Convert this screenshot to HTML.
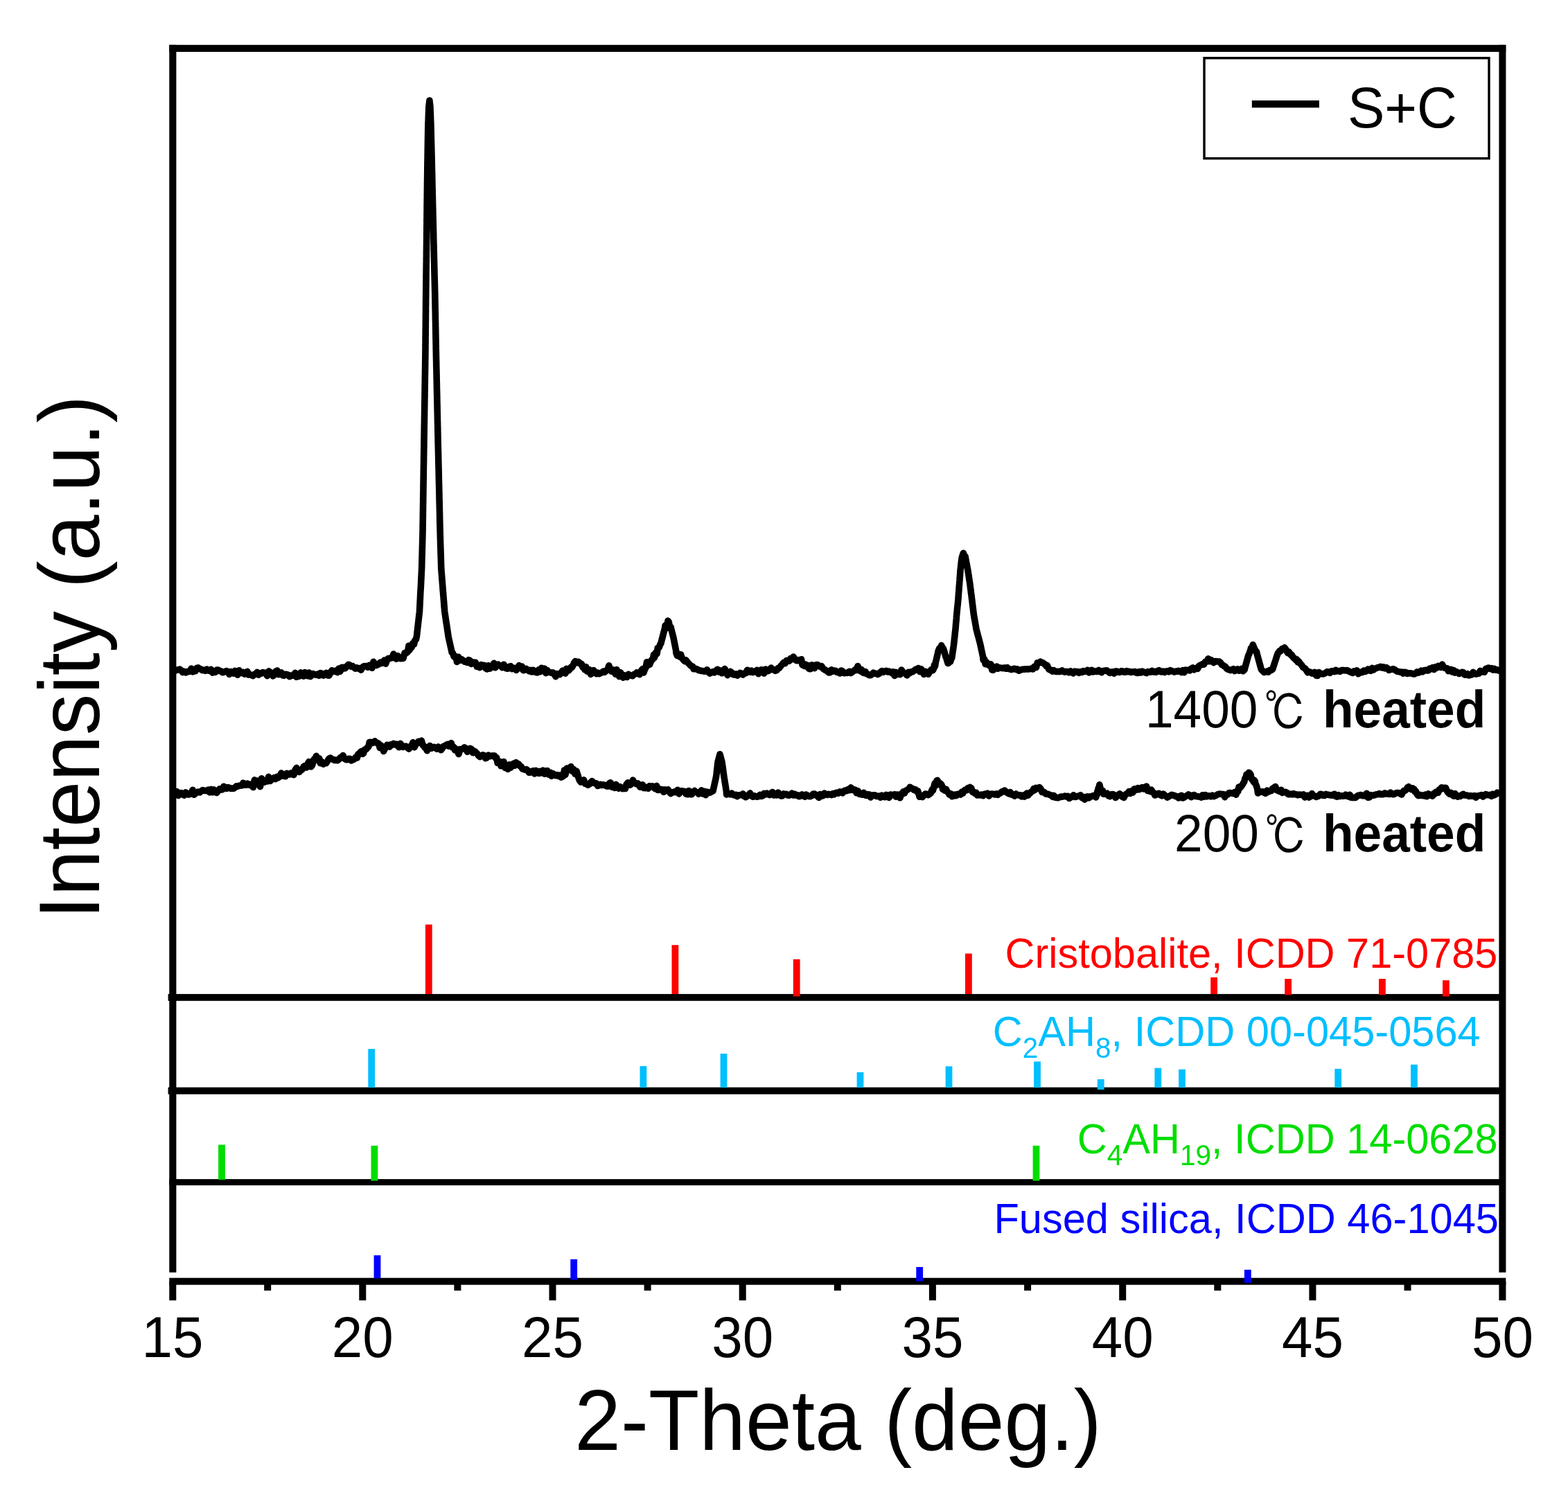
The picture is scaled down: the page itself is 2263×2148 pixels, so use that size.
<!DOCTYPE html>
<html><head><meta charset="utf-8"><title>XRD</title>
<style>html,body{margin:0;padding:0;background:#fff;overflow:hidden;}svg{display:block;}</style>
</head><body>
<svg width="2263" height="2148" viewBox="0 0 2263 2148">
<rect x="0" y="0" width="2263" height="2148" fill="#fff"/>
<path d="M251.0 966.5 L253.1 968.2 L255.2 967.0 L257.3 967.0 L259.4 966.0 L261.6 967.7 L263.7 970.6 L265.8 969.4 L267.9 970.9 L270.0 969.5 L272.0 969.6 L274.0 969.0 L276.0 965.1 L278.0 969.9 L280.0 969.0 L282.0 968.8 L284.0 964.2 L286.0 963.9 L288.0 965.4 L290.0 966.1 L292.1 967.7 L294.2 967.1 L296.3 968.3 L298.4 966.1 L300.5 968.1 L302.6 968.4 L304.7 966.4 L306.8 971.2 L308.9 969.0 L311.0 970.4 L313.0 967.1 L315.0 967.1 L317.0 968.2 L319.0 969.0 L321.0 970.8 L323.0 970.3 L325.0 969.2 L327.0 968.5 L329.0 969.7 L331.0 973.4 L333.0 969.5 L335.0 971.7 L337.0 972.2 L339.0 968.4 L341.0 971.6 L343.0 974.2 L345.0 967.7 L347.0 971.2 L349.0 971.7 L351.0 970.4 L353.0 973.1 L355.0 972.1 L357.0 969.4 L359.0 974.1 L361.0 973.8 L363.0 974.5 L365.0 975.6 L367.0 973.5 L369.0 973.1 L371.0 970.4 L373.1 974.2 L375.2 971.8 L377.3 972.1 L379.4 970.5 L381.5 971.1 L383.6 971.9 L385.7 975.6 L387.8 968.9 L389.9 970.1 L392.0 973.5 L394.0 975.9 L396.0 974.2 L398.0 969.2 L400.0 968.0 L402.0 973.7 L404.0 971.5 L406.0 970.8 L408.0 975.0 L410.0 975.2 L412.0 973.3 L414.0 973.7 L416.0 974.3 L418.0 976.8 L420.0 975.0 L422.0 975.0 L424.0 975.3 L426.0 971.3 L428.0 977.2 L430.0 976.7 L432.0 976.1 L434.0 970.9 L436.0 973.3 L438.0 976.1 L440.0 970.6 L442.0 973.6 L444.0 975.8 L446.0 971.0 L448.0 976.6 L450.0 974.3 L452.0 972.7 L454.1 973.6 L456.2 974.3 L458.3 973.2 L460.4 975.3 L462.5 971.7 L464.6 972.2 L466.7 975.1 L468.8 973.1 L470.9 971.2 L473.0 974.9 L475.0 975.1 L477.0 970.5 L479.0 967.8 L481.0 969.5 L483.0 968.7 L485.0 967.8 L487.0 970.6 L489.0 965.1 L491.0 969.1 L493.0 963.5 L494.7 963.3 L496.3 964.9 L498.0 964.8 L499.7 963.1 L501.3 960.9 L503.0 959.3 L505.0 960.3 L507.0 962.2 L509.0 961.6 L511.0 963.6 L513.0 965.1 L515.0 963.8 L517.0 965.1 L519.0 964.5 L521.0 967.2 L523.0 963.6 L525.0 961.7 L527.0 961.5 L529.0 961.8 L531.0 963.2 L533.0 960.3 L535.0 961.6 L537.0 964.3 L539.0 955.3 L541.0 958.0 L543.0 960.5 L545.0 959.8 L547.0 958.5 L549.0 956.1 L551.0 957.3 L553.0 955.6 L554.8 953.1 L556.7 958.2 L558.5 953.2 L560.3 950.6 L562.2 950.6 L564.0 949.5 L566.0 949.7 L568.0 944.1 L570.0 948.4 L572.0 951.2 L574.0 946.7 L576.0 948.8 L578.0 950.8 L580.0 950.5 L582.0 950.4 L584.0 942.6 L585.1 943.5 L586.2 941.8 L587.3 942.0 L588.4 941.2 L589.9 932.2 L591.3 938.2 L592.8 931.7 L594.2 934.4 L595.7 928.6 L596.6 929.9 L597.6 929.9 L598.5 925.2 L599.4 923.8 L600.4 923.0 L601.3 919.4 L601.5 917.4 L601.8 915.3 L602.0 913.3 L602.2 911.2 L602.5 909.2 L602.7 907.1 L602.9 905.1 L603.2 903.0 L603.4 901.0 L603.6 899.0 L603.9 896.9 L604.1 894.9 L604.3 892.8 L604.6 890.8 L604.8 888.7 L605.0 886.7 L605.3 884.6 L605.5 882.6 L605.6 880.6 L605.7 878.5 L605.8 876.5 L605.9 874.4 L606.0 872.4 L606.1 870.3 L606.2 868.3 L606.3 866.3 L606.4 864.2 L606.5 862.2 L606.6 860.1 L606.7 858.1 L606.8 856.0 L606.9 854.0 L607.0 852.0 L607.2 849.9 L607.3 847.9 L607.4 845.8 L607.5 843.8 L607.6 841.7 L607.7 839.7 L607.8 837.6 L607.9 835.6 L608.0 833.6 L608.1 831.5 L608.2 829.5 L608.3 827.4 L608.4 825.4 L608.5 823.3 L608.6 821.3 L608.7 819.2 L608.7 817.2 L608.8 815.1 L608.8 813.1 L608.9 811.0 L608.9 809.0 L609.0 806.9 L609.0 804.9 L609.1 802.8 L609.2 800.8 L609.2 798.7 L609.3 796.7 L609.3 794.6 L609.4 792.6 L609.4 790.5 L609.5 788.5 L609.6 786.4 L609.6 784.4 L609.7 782.3 L609.7 780.3 L609.8 778.2 L609.8 776.2 L609.9 774.1 L609.9 772.1 L610.0 770.0 L610.0 768.0 L610.1 766.0 L610.1 764.0 L610.1 761.9 L610.1 759.9 L610.2 757.9 L610.2 755.9 L610.2 753.9 L610.3 751.9 L610.3 749.9 L610.3 747.8 L610.4 745.8 L610.4 743.8 L610.4 741.8 L610.4 739.8 L610.5 737.8 L610.5 735.7 L610.5 733.7 L610.6 731.7 L610.6 729.7 L610.6 727.7 L610.7 725.7 L610.7 723.7 L610.7 721.6 L610.7 719.6 L610.8 717.6 L610.8 715.6 L610.8 713.6 L610.9 711.6 L610.9 709.6 L610.9 707.5 L611.0 705.5 L611.0 703.5 L611.0 701.5 L611.0 699.5 L611.1 697.5 L611.1 695.4 L611.1 693.4 L611.2 691.4 L611.2 689.4 L611.2 687.4 L611.3 685.4 L611.3 683.4 L611.3 681.3 L611.3 679.3 L611.4 677.3 L611.4 675.3 L611.4 673.3 L611.5 671.3 L611.5 669.3 L611.5 667.2 L611.6 665.2 L611.6 663.2 L611.6 661.2 L611.6 659.2 L611.7 657.2 L611.7 655.1 L611.7 653.1 L611.8 651.1 L611.8 649.1 L611.8 647.1 L611.9 645.1 L611.9 643.1 L611.9 641.0 L611.9 639.0 L612.0 637.0 L612.0 635.0 L612.0 633.0 L612.1 631.0 L612.1 629.0 L612.1 627.0 L612.2 625.0 L612.2 623.0 L612.2 621.0 L612.2 619.0 L612.3 617.0 L612.3 615.0 L612.3 613.0 L612.4 611.0 L612.4 609.0 L612.4 607.0 L612.5 605.0 L612.5 603.0 L612.5 601.0 L612.6 599.0 L612.6 597.0 L612.6 595.0 L612.6 593.0 L612.7 591.0 L612.7 589.0 L612.7 587.0 L612.8 585.0 L612.8 583.0 L612.8 581.0 L612.9 579.0 L612.9 577.0 L612.9 575.0 L613.0 573.0 L613.0 571.0 L613.0 569.0 L613.0 567.0 L613.1 565.0 L613.1 563.0 L613.1 561.0 L613.2 559.0 L613.2 557.0 L613.2 555.0 L613.3 553.0 L613.3 551.0 L613.3 549.0 L613.3 547.0 L613.4 545.0 L613.4 543.0 L613.4 541.0 L613.5 539.0 L613.5 537.0 L613.5 535.0 L613.6 533.0 L613.6 531.0 L613.6 529.0 L613.7 527.0 L613.7 525.0 L613.7 523.0 L613.7 521.0 L613.8 519.0 L613.8 517.0 L613.8 515.0 L613.9 513.0 L613.9 511.0 L613.9 509.0 L613.9 507.0 L614.0 505.0 L614.0 503.0 L614.0 501.0 L614.0 499.0 L614.0 497.0 L614.1 495.0 L614.1 493.0 L614.1 491.0 L614.1 489.0 L614.1 487.0 L614.1 485.0 L614.2 483.0 L614.2 481.0 L614.2 479.0 L614.2 477.0 L614.2 475.0 L614.3 473.0 L614.3 471.0 L614.3 469.0 L614.3 467.0 L614.3 465.0 L614.4 463.0 L614.4 461.0 L614.4 459.0 L614.4 457.0 L614.4 455.0 L614.5 453.0 L614.5 451.0 L614.5 449.0 L614.5 447.0 L614.5 445.0 L614.5 443.0 L614.6 441.0 L614.6 439.0 L614.6 437.0 L614.6 435.0 L614.6 433.0 L614.7 431.0 L614.7 429.0 L614.7 427.0 L614.7 425.0 L614.7 423.0 L614.8 421.0 L614.8 419.0 L614.8 417.0 L614.8 415.0 L614.9 413.0 L614.9 411.0 L614.9 409.0 L614.9 407.0 L615.0 405.0 L615.0 403.0 L615.0 401.0 L615.0 399.0 L615.0 397.0 L615.1 395.0 L615.1 393.0 L615.1 391.0 L615.1 389.0 L615.2 387.0 L615.2 385.0 L615.2 383.0 L615.2 381.0 L615.3 379.0 L615.3 377.0 L615.3 375.0 L615.3 373.0 L615.4 371.0 L615.4 369.0 L615.4 367.0 L615.4 365.0 L615.4 363.0 L615.5 361.0 L615.5 359.0 L615.5 357.0 L615.5 355.0 L615.6 353.0 L615.6 351.0 L615.6 349.0 L615.6 347.0 L615.7 345.0 L615.7 343.0 L615.7 341.0 L615.7 339.0 L615.7 336.9 L615.8 334.9 L615.8 332.8 L615.8 330.8 L615.8 328.8 L615.8 326.7 L615.9 324.7 L615.9 322.6 L615.9 320.6 L615.9 318.6 L615.9 316.5 L616.0 314.5 L616.0 312.4 L616.0 310.4 L616.0 308.4 L616.0 306.3 L616.1 304.3 L616.1 302.2 L616.1 300.2 L616.1 298.2 L616.1 296.1 L616.2 294.1 L616.2 292.0 L616.2 290.0 L616.2 288.0 L616.3 285.9 L616.3 283.9 L616.3 281.8 L616.3 279.8 L616.4 277.8 L616.4 275.7 L616.4 273.7 L616.4 271.7 L616.5 269.6 L616.5 267.6 L616.5 265.5 L616.5 263.5 L616.6 261.5 L616.6 259.4 L616.6 257.4 L616.7 255.3 L616.7 253.3 L616.7 251.3 L616.7 249.2 L616.8 247.2 L616.8 245.2 L616.8 243.1 L616.8 241.1 L616.9 239.0 L616.9 237.0 L616.9 235.0 L617.0 233.0 L617.0 231.0 L617.0 229.0 L617.1 227.0 L617.1 225.0 L617.1 223.0 L617.2 221.0 L617.2 219.0 L617.2 217.0 L617.3 215.0 L617.3 213.0 L617.3 211.0 L617.4 209.0 L617.4 207.0 L617.4 205.0 L617.5 203.0 L617.5 201.0 L617.5 199.0 L617.6 197.0 L617.6 195.0 L617.6 193.0 L617.7 191.0 L617.7 189.0 L617.7 187.0 L617.8 185.0 L617.8 183.0 L617.9 181.0 L617.9 179.0 L618.0 177.0 L618.1 175.0 L618.2 173.0 L618.2 171.0 L618.3 169.0 L618.4 167.0 L618.4 165.0 L618.5 163.0 L618.6 161.0 L618.7 159.0 L618.7 157.0 L618.8 155.0 L619.0 153.0 L619.2 151.0 L619.5 149.0 L619.7 147.0 L619.9 145.0 L620.1 147.0 L620.3 149.0 L620.6 151.0 L620.8 153.0 L621.0 155.0 L621.1 157.0 L621.1 159.0 L621.2 161.0 L621.3 163.0 L621.4 165.0 L621.4 167.0 L621.5 169.0 L621.6 171.0 L621.6 173.0 L621.7 175.0 L621.8 177.0 L621.9 179.0 L621.9 181.0 L622.0 183.0 L622.0 185.0 L622.1 187.0 L622.1 189.0 L622.2 191.0 L622.2 193.0 L622.3 195.0 L622.3 197.0 L622.4 199.0 L622.4 201.0 L622.5 203.0 L622.5 205.0 L622.6 207.0 L622.6 209.0 L622.7 211.0 L622.7 213.0 L622.8 215.0 L622.8 217.0 L622.9 219.0 L622.9 221.0 L623.0 223.0 L623.0 225.0 L623.1 227.0 L623.1 229.0 L623.2 231.0 L623.2 233.0 L623.3 235.0 L623.3 237.0 L623.3 239.0 L623.4 241.1 L623.4 243.1 L623.5 245.2 L623.5 247.2 L623.6 249.2 L623.6 251.3 L623.7 253.3 L623.7 255.3 L623.8 257.4 L623.8 259.4 L623.9 261.5 L623.9 263.5 L623.9 265.5 L624.0 267.6 L624.0 269.6 L624.1 271.7 L624.1 273.7 L624.2 275.7 L624.2 277.8 L624.3 279.8 L624.3 281.8 L624.4 283.9 L624.4 285.9 L624.5 288.0 L624.5 290.0 L624.5 292.0 L624.6 294.1 L624.6 296.1 L624.7 298.2 L624.7 300.2 L624.8 302.2 L624.8 304.3 L624.9 306.3 L624.9 308.4 L625.0 310.4 L625.0 312.4 L625.1 314.5 L625.1 316.5 L625.2 318.6 L625.2 320.6 L625.3 322.6 L625.3 324.7 L625.4 326.7 L625.4 328.8 L625.5 330.8 L625.5 332.8 L625.6 334.9 L625.6 336.9 L625.7 339.0 L625.7 341.0 L625.7 343.0 L625.8 345.0 L625.8 347.0 L625.9 349.0 L625.9 351.0 L626.0 353.0 L626.0 355.0 L626.1 357.0 L626.1 359.0 L626.2 361.0 L626.2 363.0 L626.3 365.0 L626.3 367.0 L626.4 369.0 L626.4 371.0 L626.5 373.0 L626.5 375.0 L626.6 377.0 L626.6 379.0 L626.7 381.0 L626.7 383.0 L626.8 385.0 L626.8 387.0 L626.9 389.0 L626.9 391.0 L627.0 393.0 L627.0 395.0 L627.1 397.0 L627.1 399.0 L627.2 401.0 L627.2 403.0 L627.3 405.0 L627.3 407.0 L627.4 409.0 L627.4 411.0 L627.5 413.0 L627.5 415.0 L627.6 417.0 L627.6 419.0 L627.7 421.0 L627.7 423.0 L627.8 425.0 L627.8 427.0 L627.8 429.0 L627.9 431.0 L627.9 433.0 L628.0 435.0 L628.0 437.0 L628.0 439.0 L628.1 441.0 L628.1 443.0 L628.1 445.0 L628.2 447.0 L628.2 449.0 L628.3 451.0 L628.3 453.0 L628.3 455.0 L628.4 457.0 L628.4 459.0 L628.4 461.0 L628.5 463.0 L628.5 465.0 L628.6 467.0 L628.6 469.0 L628.6 471.0 L628.7 473.0 L628.7 475.0 L628.8 477.0 L628.8 479.0 L628.8 481.0 L628.9 483.0 L628.9 485.0 L628.9 487.0 L629.0 489.0 L629.0 491.0 L629.1 493.0 L629.1 495.0 L629.1 497.0 L629.2 499.0 L629.2 501.0 L629.2 503.0 L629.3 505.0 L629.3 507.0 L629.4 509.0 L629.4 511.0 L629.4 513.0 L629.5 515.0 L629.5 517.0 L629.6 519.0 L629.6 521.0 L629.7 523.0 L629.7 525.0 L629.7 527.0 L629.8 529.0 L629.8 531.0 L629.9 533.0 L629.9 535.0 L630.0 537.0 L630.0 539.0 L630.1 541.0 L630.1 543.0 L630.1 545.0 L630.2 547.0 L630.2 549.0 L630.3 551.0 L630.3 553.0 L630.4 555.0 L630.4 557.0 L630.4 559.0 L630.5 561.0 L630.5 563.0 L630.6 565.0 L630.6 567.0 L630.7 569.0 L630.7 571.0 L630.8 573.0 L630.8 575.0 L630.8 577.0 L630.9 579.0 L630.9 581.0 L631.0 583.0 L631.0 585.0 L631.1 587.0 L631.1 589.0 L631.1 591.0 L631.2 593.0 L631.2 595.0 L631.3 597.0 L631.3 599.0 L631.4 601.0 L631.4 603.0 L631.4 605.0 L631.5 607.0 L631.5 609.0 L631.6 611.0 L631.6 613.0 L631.7 615.0 L631.7 617.0 L631.8 619.0 L631.8 621.0 L631.8 623.0 L631.9 625.0 L631.9 627.0 L632.0 629.0 L632.0 631.0 L632.1 633.0 L632.1 635.0 L632.1 637.0 L632.2 639.0 L632.2 641.0 L632.3 643.1 L632.3 645.1 L632.4 647.1 L632.4 649.1 L632.5 651.1 L632.5 653.1 L632.6 655.1 L632.6 657.2 L632.7 659.2 L632.7 661.2 L632.7 663.2 L632.8 665.2 L632.8 667.2 L632.9 669.3 L632.9 671.3 L633.0 673.3 L633.0 675.3 L633.1 677.3 L633.1 679.3 L633.2 681.3 L633.2 683.4 L633.3 685.4 L633.3 687.4 L633.3 689.4 L633.4 691.4 L633.4 693.4 L633.5 695.4 L633.5 697.5 L633.6 699.5 L633.6 701.5 L633.7 703.5 L633.7 705.5 L633.8 707.5 L633.8 709.6 L633.9 711.6 L633.9 713.6 L634.0 715.6 L634.0 717.6 L634.0 719.6 L634.1 721.6 L634.1 723.7 L634.2 725.7 L634.2 727.7 L634.3 729.7 L634.3 731.7 L634.4 733.7 L634.4 735.7 L634.5 737.8 L634.5 739.8 L634.6 741.8 L634.6 743.8 L634.6 745.8 L634.7 747.8 L634.7 749.9 L634.8 751.9 L634.8 753.9 L634.9 755.9 L634.9 757.9 L635.0 759.9 L635.0 761.9 L635.1 764.0 L635.1 766.0 L635.2 768.0 L635.2 770.0 L635.3 772.1 L635.3 774.1 L635.4 776.2 L635.5 778.2 L635.5 780.3 L635.6 782.3 L635.6 784.4 L635.7 786.4 L635.8 788.5 L635.8 790.5 L635.9 792.6 L636.0 794.6 L636.0 796.7 L636.1 798.7 L636.2 800.8 L636.2 802.8 L636.3 804.9 L636.4 806.9 L636.4 809.0 L636.5 811.0 L636.5 813.1 L636.6 815.1 L636.7 817.2 L636.7 819.2 L636.8 821.3 L637.0 823.3 L637.1 825.4 L637.3 827.4 L637.5 829.5 L637.6 831.5 L637.8 833.6 L637.9 835.6 L638.1 837.6 L638.3 839.7 L638.4 841.7 L638.6 843.8 L638.8 845.8 L638.9 847.9 L639.1 849.9 L639.2 852.0 L639.4 854.0 L639.6 856.0 L639.7 858.1 L639.9 860.1 L640.1 862.2 L640.2 864.2 L640.4 866.3 L640.6 868.3 L640.7 870.3 L640.9 872.4 L641.0 874.4 L641.2 876.5 L641.4 878.5 L641.5 880.6 L641.7 882.6 L642.0 884.6 L642.3 886.7 L642.6 888.7 L642.9 890.8 L643.2 892.8 L643.5 894.9 L643.8 896.9 L644.1 899.0 L644.5 901.0 L644.8 903.0 L645.1 905.1 L645.4 907.1 L645.7 909.2 L646.0 911.2 L646.3 913.3 L646.6 915.3 L646.9 917.4 L647.2 919.4 L647.6 921.4 L648.1 923.4 L648.5 925.4 L649.0 927.4 L649.4 929.4 L649.9 931.4 L650.3 933.4 L650.8 935.4 L651.2 937.4 L651.7 939.4 L652.1 941.7 L653.6 942.9 L655.1 947.9 L656.5 948.7 L658.0 947.7 L659.5 955.5 L661.7 948.4 L663.9 953.3 L666.1 951.7 L668.3 953.2 L670.5 955.1 L672.4 954.8 L674.4 956.4 L676.3 952.7 L678.2 953.5 L680.1 958.4 L682.1 956.0 L684.0 956.5 L686.1 956.2 L688.2 962.2 L690.3 961.7 L692.4 963.7 L694.4 959.5 L696.5 961.9 L698.6 960.2 L700.7 964.5 L702.7 965.9 L704.8 960.6 L706.8 965.2 L708.8 963.8 L710.9 961.1 L712.9 957.3 L714.9 963.7 L716.9 960.4 L719.0 959.1 L721.0 960.8 L723.0 961.2 L725.0 963.8 L727.0 959.2 L729.0 963.9 L731.0 965.0 L733.0 965.3 L735.0 962.4 L737.0 961.7 L739.0 965.6 L741.0 964.2 L743.0 964.5 L745.1 967.4 L747.1 964.4 L749.2 960.6 L751.2 964.7 L753.3 962.1 L755.4 967.7 L757.4 967.0 L759.5 965.5 L761.5 967.0 L763.5 968.8 L765.5 967.4 L767.6 970.0 L769.6 967.3 L771.6 969.6 L773.6 970.6 L775.6 970.9 L777.7 966.5 L779.7 969.7 L781.7 964.2 L783.7 966.3 L785.8 965.1 L787.8 971.6 L789.8 967.5 L791.9 970.5 L793.9 970.6 L795.9 971.4 L797.9 970.8 L800.0 973.0 L802.0 976.6 L804.0 972.7 L806.0 973.2 L808.0 973.7 L810.0 970.9 L812.0 968.3 L814.0 969.3 L816.0 972.1 L817.6 965.3 L819.1 966.1 L820.7 967.9 L822.3 966.1 L823.9 963.2 L825.4 963.4 L827.0 960.8 L828.6 956.7 L830.2 954.6 L831.7 955.1 L833.3 956.8 L834.8 955.5 L836.3 956.5 L837.8 958.5 L839.4 958.6 L840.9 963.1 L842.4 962.6 L844.1 966.9 L845.8 962.6 L847.5 969.2 L849.1 968.4 L850.8 966.9 L852.5 973.4 L854.5 971.4 L856.6 967.5 L858.6 970.2 L860.7 972.6 L862.7 971.1 L864.7 972.7 L866.8 971.7 L868.8 970.7 L870.8 969.2 L872.8 970.3 L874.9 968.1 L876.9 966.8 L878.9 960.8 L880.8 967.6 L882.6 969.3 L884.5 966.9 L886.3 967.4 L888.2 973.1 L890.0 966.6 L891.9 971.9 L893.7 976.6 L895.6 970.8 L897.4 974.8 L899.3 978.1 L901.1 974.9 L903.0 977.1 L905.0 977.4 L907.0 973.4 L909.0 974.6 L911.0 975.0 L913.0 975.7 L915.0 973.5 L917.0 972.8 L919.0 970.8 L921.0 971.7 L923.0 973.8 L924.5 970.6 L926.0 967.2 L927.5 965.6 L929.0 971.0 L930.5 966.4 L932.0 963.8 L933.5 955.8 L934.9 960.5 L936.4 958.5 L937.8 959.2 L939.3 955.0 L940.7 952.3 L942.2 951.8 L943.6 945.1 L944.5 949.2 L945.5 946.0 L946.4 942.1 L947.3 944.4 L948.2 943.5 L949.2 935.3 L950.1 934.9 L951.0 935.0 L951.9 933.0 L952.9 930.0 L953.8 929.0 L954.3 927.0 L954.8 925.0 L955.3 923.0 L955.9 921.0 L956.4 919.0 L956.9 917.0 L957.4 915.0 L957.9 913.0 L958.5 911.0 L959.0 909.0 L959.5 907.0 L960.0 903.1 L961.3 907.1 L962.7 902.7 L964.0 896.1 L965.3 898.0 L966.7 906.2 L968.0 905.0 L968.5 907.0 L969.0 908.9 L969.5 910.9 L970.0 912.9 L970.5 914.8 L971.0 916.8 L971.5 918.7 L972.0 920.7 L972.4 922.7 L972.8 924.8 L973.2 926.8 L973.6 928.8 L974.0 930.9 L974.4 932.9 L974.8 934.9 L975.2 936.9 L975.6 939.0 L976.0 943.0 L977.3 946.3 L978.7 946.0 L980.0 944.3 L981.3 948.2 L982.7 945.0 L984.0 949.5 L986.0 952.1 L988.0 954.4 L990.0 953.1 L992.0 955.6 L994.0 957.9 L995.4 959.2 L996.9 961.1 L998.3 961.7 L999.7 962.1 L1001.1 965.7 L1002.6 965.7 L1004.0 965.3 L1006.1 966.0 L1008.1 967.6 L1010.2 967.7 L1012.2 968.5 L1014.3 968.5 L1016.4 969.2 L1018.4 968.8 L1020.5 966.9 L1022.5 970.5 L1024.6 972.1 L1026.8 970.9 L1029.0 969.6 L1031.2 970.9 L1033.4 968.1 L1035.6 966.2 L1037.8 970.1 L1040.0 968.1 L1042.0 971.8 L1044.0 968.4 L1046.0 965.6 L1048.0 969.1 L1050.0 974.7 L1052.0 971.0 L1054.0 969.4 L1056.0 970.9 L1058.0 973.7 L1060.0 974.0 L1062.0 973.0 L1064.1 975.2 L1066.2 973.2 L1068.2 971.4 L1070.2 972.2 L1072.3 973.9 L1074.3 972.1 L1076.4 971.8 L1078.5 967.2 L1080.5 968.7 L1082.5 970.3 L1084.5 968.0 L1086.6 970.5 L1088.6 969.4 L1090.6 969.8 L1092.6 967.4 L1094.6 972.7 L1096.7 969.9 L1098.7 966.8 L1100.7 967.2 L1102.7 972.1 L1104.8 966.1 L1106.8 968.4 L1108.8 968.6 L1110.8 966.5 L1112.9 964.1 L1114.9 966.7 L1116.9 966.9 L1119.0 968.4 L1121.0 967.6 L1122.7 964.5 L1124.3 964.7 L1126.0 962.6 L1127.7 960.4 L1129.3 958.6 L1131.0 956.5 L1133.0 957.7 L1135.0 953.5 L1137.0 953.6 L1139.0 954.2 L1141.0 950.5 L1143.0 951.8 L1145.0 948.0 L1147.0 950.8 L1149.0 953.5 L1151.0 953.7 L1153.0 952.7 L1155.0 952.5 L1156.5 951.7 L1158.0 959.8 L1159.5 958.7 L1161.0 961.5 L1162.5 959.1 L1164.0 962.1 L1165.5 960.4 L1167.5 965.4 L1169.5 965.6 L1171.6 959.8 L1173.6 963.4 L1175.6 964.6 L1177.7 959.7 L1179.7 959.5 L1181.7 960.9 L1183.7 962.4 L1185.8 961.6 L1187.8 965.2 L1189.8 966.3 L1191.8 967.8 L1193.9 968.6 L1195.9 970.9 L1197.9 970.9 L1200.0 966.7 L1202.0 969.0 L1204.0 968.1 L1206.0 968.2 L1208.0 970.4 L1210.0 970.8 L1212.0 972.0 L1214.0 968.0 L1216.0 968.9 L1218.0 971.6 L1220.0 971.4 L1222.0 971.4 L1224.0 971.2 L1226.0 969.2 L1228.0 971.5 L1230.0 970.2 L1232.0 968.7 L1234.0 966.9 L1236.0 967.3 L1238.0 961.6 L1239.8 965.9 L1241.6 968.8 L1243.4 966.6 L1245.2 970.9 L1247.1 971.7 L1248.9 969.5 L1250.7 972.6 L1252.5 973.4 L1254.5 974.7 L1256.6 974.7 L1258.6 973.1 L1260.6 971.2 L1262.7 972.4 L1264.7 972.3 L1266.7 973.6 L1268.8 972.5 L1270.8 970.2 L1272.8 968.6 L1274.9 970.3 L1276.9 969.3 L1278.9 968.3 L1281.0 970.0 L1283.0 969.0 L1285.0 970.4 L1287.0 971.4 L1289.0 969.8 L1291.0 975.4 L1293.0 970.4 L1295.0 973.4 L1297.0 971.6 L1299.0 973.8 L1301.0 967.0 L1303.0 970.5 L1305.0 971.9 L1307.1 972.0 L1309.1 974.9 L1311.2 970.2 L1313.2 971.6 L1315.2 969.9 L1317.3 969.7 L1319.3 968.2 L1321.4 966.3 L1323.4 967.0 L1325.4 964.5 L1327.5 969.6 L1329.5 965.8 L1331.5 969.0 L1333.5 973.4 L1335.5 969.3 L1337.6 970.4 L1339.6 973.3 L1341.9 969.7 L1344.1 966.7 L1346.4 967.5 L1347.1 966.2 L1347.8 964.4 L1348.5 959.5 L1349.1 962.5 L1349.8 960.3 L1350.5 955.0 L1351.2 953.0 L1351.7 950.9 L1352.1 948.8 L1352.6 946.7 L1353.1 944.7 L1353.6 942.6 L1354.0 940.5 L1354.5 938.9 L1355.9 935.7 L1357.4 937.6 L1358.8 931.6 L1359.9 936.1 L1361.1 935.6 L1362.2 938.4 L1362.8 940.4 L1363.3 942.4 L1363.9 944.4 L1364.5 946.4 L1365.0 948.4 L1365.6 949.0 L1366.9 954.0 L1368.1 957.5 L1369.4 957.0 L1370.5 953.9 L1371.6 955.1 L1372.6 951.7 L1373.7 950.0 L1374.0 947.9 L1374.3 945.8 L1374.6 943.7 L1374.9 941.6 L1375.3 939.4 L1375.6 937.3 L1375.9 935.2 L1376.2 933.1 L1376.5 931.0 L1376.7 928.9 L1377.0 926.8 L1377.2 924.7 L1377.4 922.6 L1377.6 920.5 L1377.9 918.5 L1378.1 916.4 L1378.3 914.3 L1378.5 912.2 L1378.8 910.1 L1379.0 908.0 L1379.2 905.9 L1379.4 903.7 L1379.5 901.6 L1379.7 899.5 L1379.9 897.4 L1380.1 895.2 L1380.3 893.1 L1380.4 891.0 L1380.6 888.8 L1380.8 886.7 L1381.0 884.6 L1381.2 882.4 L1381.4 880.3 L1381.6 878.1 L1381.8 876.0 L1382.1 873.9 L1382.3 871.7 L1382.5 869.6 L1382.7 867.4 L1382.9 865.3 L1383.1 863.2 L1383.2 861.0 L1383.4 858.9 L1383.5 856.8 L1383.7 854.6 L1383.9 852.5 L1384.0 850.4 L1384.2 848.3 L1384.3 846.1 L1384.5 844.0 L1384.7 841.9 L1384.8 839.7 L1385.0 837.6 L1385.1 835.5 L1385.3 833.4 L1385.5 831.2 L1385.6 829.1 L1385.8 827.0 L1385.9 824.8 L1386.1 822.7 L1386.3 820.6 L1386.6 818.5 L1386.8 816.4 L1387.0 814.4 L1387.3 812.3 L1387.5 810.2 L1387.8 808.1 L1388.0 806.0 L1388.6 804.0 L1389.2 801.9 L1389.8 799.8 L1390.4 798.4 L1391.7 803.4 L1393.0 803.0 L1393.4 805.0 L1393.8 806.9 L1394.1 808.9 L1394.5 810.9 L1394.9 812.9 L1395.3 814.8 L1395.7 816.8 L1396.0 818.8 L1396.4 820.7 L1396.8 822.7 L1397.1 824.8 L1397.4 827.0 L1397.8 829.1 L1398.1 831.2 L1398.4 833.4 L1398.7 835.5 L1399.0 837.6 L1399.4 839.7 L1399.7 841.9 L1400.0 844.0 L1400.3 846.1 L1400.5 848.3 L1400.8 850.4 L1401.1 852.5 L1401.3 854.6 L1401.6 856.8 L1401.9 858.9 L1402.2 861.0 L1402.4 863.2 L1402.7 865.3 L1403.0 867.4 L1403.2 869.6 L1403.5 871.7 L1403.7 873.9 L1404.0 876.0 L1404.3 878.1 L1404.5 880.3 L1404.8 882.4 L1405.0 884.6 L1405.3 886.7 L1405.7 888.8 L1406.0 891.0 L1406.4 893.1 L1406.8 895.2 L1407.2 897.4 L1407.5 899.5 L1407.9 901.6 L1408.3 903.7 L1408.6 905.9 L1409.0 908.0 L1409.5 909.9 L1410.0 911.9 L1410.5 913.8 L1411.0 915.7 L1411.5 917.7 L1412.1 919.6 L1412.6 921.6 L1413.1 923.5 L1413.6 925.4 L1414.1 927.4 L1414.6 929.3 L1415.1 931.4 L1415.5 933.6 L1416.0 935.7 L1416.4 937.9 L1416.9 940.0 L1417.4 942.1 L1417.8 944.3 L1418.3 946.4 L1418.7 948.6 L1419.2 953.0 L1420.7 951.4 L1422.2 958.8 L1423.8 956.0 L1425.3 959.3 L1426.8 958.2 L1428.3 961.2 L1430.0 958.9 L1431.8 967.0 L1433.5 967.3 L1435.3 963.2 L1437.0 963.7 L1438.5 962.1 L1440.0 965.3 L1442.0 963.7 L1444.0 964.3 L1446.0 964.3 L1448.0 964.7 L1450.0 963.8 L1452.0 965.2 L1454.0 963.8 L1456.0 965.5 L1458.0 966.1 L1460.0 966.5 L1462.0 965.8 L1464.1 965.2 L1466.2 966.5 L1468.2 965.9 L1470.2 968.2 L1472.3 967.4 L1474.3 966.6 L1476.4 966.3 L1478.5 966.1 L1480.5 966.0 L1482.5 965.9 L1484.5 966.0 L1486.5 965.6 L1488.6 965.0 L1490.6 966.0 L1492.6 962.2 L1494.1 961.7 L1495.6 963.4 L1497.2 956.9 L1498.7 957.1 L1500.2 956.5 L1501.7 955.2 L1503.5 956.4 L1505.2 956.7 L1507.0 958.4 L1508.8 959.1 L1510.0 961.6 L1511.3 960.5 L1512.5 963.4 L1513.8 966.2 L1515.0 966.9 L1517.0 967.0 L1519.0 969.0 L1521.0 967.7 L1523.0 969.3 L1525.0 969.6 L1527.0 969.3 L1529.0 969.6 L1531.0 969.1 L1533.0 967.8 L1535.0 969.5 L1537.0 970.2 L1539.0 969.3 L1541.0 969.9 L1543.0 970.8 L1545.1 968.9 L1547.1 970.6 L1549.1 971.8 L1551.2 969.1 L1553.2 969.9 L1555.2 969.5 L1557.3 971.3 L1559.3 969.9 L1561.3 970.5 L1563.4 968.7 L1565.4 969.4 L1567.5 969.3 L1569.5 967.3 L1571.5 970.8 L1573.6 970.2 L1575.6 967.2 L1577.6 969.9 L1579.7 968.9 L1581.7 969.5 L1583.7 969.5 L1585.7 967.5 L1587.7 968.9 L1589.8 970.8 L1591.8 968.6 L1593.8 968.2 L1595.8 967.9 L1597.8 968.1 L1599.8 969.8 L1601.8 971.4 L1603.9 970.0 L1605.9 969.9 L1607.9 972.1 L1609.9 969.1 L1611.9 969.0 L1613.9 970.4 L1616.0 970.5 L1618.0 968.8 L1620.0 968.7 L1622.0 970.3 L1624.0 970.3 L1626.1 968.6 L1628.1 969.8 L1630.1 969.4 L1632.2 970.5 L1634.2 969.9 L1636.2 969.9 L1638.3 969.6 L1640.3 971.2 L1642.3 971.5 L1644.4 969.6 L1646.4 970.9 L1648.5 969.2 L1650.5 970.1 L1652.5 970.8 L1654.6 971.7 L1656.6 969.6 L1658.6 969.9 L1660.7 970.2 L1662.7 968.4 L1664.7 970.0 L1666.7 969.2 L1668.7 970.3 L1670.8 968.6 L1672.8 967.6 L1674.8 969.7 L1676.8 969.9 L1678.8 969.0 L1680.8 970.5 L1682.8 969.2 L1684.9 968.8 L1686.9 969.9 L1688.9 967.6 L1690.9 968.6 L1692.9 969.2 L1694.9 970.1 L1697.0 969.0 L1699.0 969.4 L1701.0 968.3 L1703.0 969.3 L1705.0 970.5 L1707.1 967.6 L1709.1 970.7 L1711.2 967.1 L1713.2 967.5 L1715.2 967.4 L1717.3 968.0 L1719.3 965.2 L1721.4 964.0 L1723.4 966.7 L1725.1 965.7 L1726.8 964.4 L1728.5 965.4 L1730.1 961.6 L1731.8 960.4 L1733.5 960.0 L1735.5 958.5 L1737.6 959.1 L1739.6 955.1 L1741.6 955.2 L1743.6 950.9 L1745.7 954.8 L1747.7 952.6 L1749.7 954.5 L1751.7 956.4 L1753.8 954.5 L1755.8 954.7 L1757.8 955.0 L1759.8 955.1 L1761.6 956.7 L1763.3 959.5 L1765.1 960.2 L1766.9 961.6 L1768.7 962.7 L1770.5 965.3 L1772.2 966.2 L1774.0 966.8 L1776.0 967.7 L1778.0 966.8 L1780.0 965.7 L1782.0 968.6 L1784.0 967.5 L1786.0 965.9 L1788.0 968.2 L1790.0 967.4 L1792.0 965.3 L1794.0 968.8 L1796.0 967.0 L1796.5 965.0 L1797.1 963.0 L1797.6 961.0 L1798.2 959.0 L1798.7 957.0 L1799.3 955.0 L1799.8 953.0 L1800.4 951.0 L1800.9 949.0 L1801.5 947.0 L1802.0 945.4 L1802.9 944.0 L1803.8 941.2 L1804.7 938.8 L1805.6 935.3 L1806.5 936.1 L1807.4 933.0 L1808.3 930.7 L1809.2 933.4 L1810.0 935.1 L1810.9 937.7 L1811.8 938.6 L1812.7 941.0 L1813.5 940.6 L1814.4 945.0 L1815.0 947.0 L1815.5 949.0 L1816.1 951.0 L1816.6 953.0 L1817.2 955.0 L1817.7 957.0 L1818.3 959.0 L1818.8 961.0 L1819.4 963.0 L1819.9 965.0 L1820.5 966.5 L1822.5 968.7 L1824.6 970.5 L1826.6 969.6 L1828.6 969.1 L1830.6 970.1 L1832.7 967.2 L1834.7 967.6 L1836.7 966.0 L1837.3 964.1 L1837.9 962.2 L1838.6 960.2 L1839.2 958.3 L1839.8 956.4 L1840.4 954.5 L1841.1 952.5 L1841.7 950.6 L1842.3 948.7 L1842.9 946.8 L1843.6 944.8 L1844.2 942.9 L1844.8 942.8 L1846.6 939.8 L1848.4 939.9 L1850.3 936.6 L1852.1 936.4 L1853.9 934.9 L1855.4 936.8 L1856.9 939.6 L1858.5 942.6 L1860.0 940.9 L1861.5 942.7 L1863.0 945.5 L1864.4 945.3 L1865.9 948.4 L1867.3 949.9 L1868.7 950.4 L1870.1 952.7 L1871.6 951.9 L1873.0 955.8 L1874.5 954.8 L1876.0 957.2 L1877.5 958.9 L1879.0 960.6 L1880.7 963.5 L1882.3 964.3 L1884.0 965.4 L1885.6 968.0 L1887.3 970.7 L1889.3 969.6 L1891.4 970.5 L1893.4 972.1 L1895.4 971.6 L1897.4 970.4 L1899.5 975.2 L1901.5 975.4 L1903.5 970.5 L1905.5 972.4 L1907.6 972.6 L1909.6 972.9 L1911.6 972.2 L1913.6 970.9 L1915.6 969.7 L1917.7 970.7 L1919.7 971.4 L1921.7 968.8 L1923.7 968.7 L1925.8 969.6 L1927.8 967.3 L1929.8 968.9 L1931.8 968.5 L1933.9 969.3 L1935.9 967.8 L1937.9 967.4 L1940.0 967.8 L1942.0 967.9 L1944.0 967.6 L1946.0 968.6 L1948.1 969.7 L1950.1 970.5 L1952.1 971.4 L1954.1 968.9 L1956.1 969.6 L1958.2 967.7 L1960.2 972.8 L1962.2 970.2 L1964.2 970.5 L1966.2 970.6 L1968.3 968.0 L1970.3 969.5 L1972.3 968.5 L1974.3 966.0 L1976.3 967.8 L1978.4 968.3 L1980.4 964.4 L1982.4 966.9 L1984.4 965.2 L1986.5 964.5 L1988.5 963.5 L1990.5 963.4 L1992.5 962.3 L1994.6 964.0 L1996.6 963.0 L1998.6 964.8 L2000.7 963.6 L2002.7 964.9 L2004.7 967.4 L2006.8 966.5 L2008.8 966.3 L2010.8 965.7 L2012.8 966.6 L2014.9 968.2 L2016.9 969.5 L2018.9 969.5 L2021.0 970.1 L2023.0 970.0 L2025.0 971.9 L2027.0 970.3 L2029.0 970.5 L2031.0 972.5 L2033.0 971.9 L2035.0 971.9 L2037.0 972.0 L2039.0 972.7 L2041.0 973.1 L2043.1 972.2 L2045.1 969.9 L2047.2 971.1 L2049.2 970.2 L2051.2 968.3 L2053.3 969.7 L2055.3 967.9 L2057.4 967.2 L2059.4 967.9 L2061.4 967.9 L2063.4 965.0 L2065.5 965.7 L2067.5 963.6 L2069.5 966.5 L2071.5 962.9 L2073.5 964.1 L2075.6 961.5 L2077.6 962.5 L2079.6 963.4 L2081.4 959.1 L2083.2 962.3 L2085.0 964.2 L2086.8 964.5 L2088.6 964.7 L2090.4 968.7 L2092.2 967.3 L2094.0 966.3 L2095.8 969.9 L2097.8 967.5 L2099.8 971.1 L2101.9 969.6 L2103.9 970.8 L2105.9 972.5 L2107.9 971.6 L2109.9 970.4 L2111.9 970.5 L2113.9 974.1 L2116.0 974.0 L2118.0 972.7 L2120.0 974.9 L2122.0 974.2 L2124.1 974.0 L2126.1 970.4 L2128.2 972.2 L2130.2 973.1 L2132.2 972.6 L2134.3 972.3 L2136.3 968.3 L2138.3 970.0 L2140.3 969.2 L2142.4 970.3 L2144.4 965.3 L2146.4 964.8 L2148.4 964.0 L2150.5 965.5 L2152.6 964.7 L2154.7 967.0 L2156.7 965.4 L2158.8 967.2 L2160.9 966.8 L2163.0 968.0" fill="none" stroke="#000" stroke-width="9.6" stroke-linejoin="round" stroke-linecap="round"/>
<path d="M251.0 1146.3 L253.1 1144.5 L255.2 1142.5 L257.3 1148.4 L259.4 1146.7 L261.6 1144.8 L263.7 1146.4 L265.8 1148.2 L267.9 1143.8 L270.0 1145.8 L272.1 1146.9 L274.1 1146.6 L276.1 1144.4 L278.2 1140.2 L280.2 1147.2 L282.3 1144.9 L284.4 1143.9 L286.4 1143.0 L288.4 1143.9 L290.5 1142.1 L292.5 1140.6 L294.5 1141.2 L296.6 1141.4 L298.6 1141.3 L300.6 1140.0 L302.6 1143.8 L304.6 1139.4 L306.7 1143.7 L308.7 1139.9 L310.7 1142.8 L312.7 1144.5 L314.8 1141.4 L316.8 1138.9 L318.8 1140.1 L320.9 1139.8 L322.9 1135.2 L324.9 1137.2 L326.9 1138.4 L329.0 1136.5 L331.0 1137.2 L333.0 1138.3 L335.0 1138.1 L337.0 1138.1 L339.0 1137.1 L341.0 1134.9 L343.0 1135.2 L345.0 1134.3 L347.0 1133.9 L349.0 1133.9 L351.0 1130.2 L353.1 1133.0 L355.1 1133.3 L357.1 1131.0 L359.2 1132.7 L361.2 1133.6 L363.3 1131.8 L365.4 1136.5 L367.4 1125.9 L369.4 1130.8 L371.5 1127.0 L373.5 1132.6 L375.5 1135.6 L377.6 1123.7 L379.6 1128.9 L381.6 1129.1 L383.6 1126.7 L385.6 1128.0 L387.7 1121.3 L389.7 1127.5 L391.7 1125.8 L393.7 1124.5 L395.8 1122.5 L397.8 1124.6 L399.8 1121.5 L401.9 1122.5 L403.9 1120.3 L405.9 1115.9 L407.9 1120.1 L410.0 1120.0 L412.0 1120.7 L414.0 1116.3 L416.0 1117.3 L418.0 1118.0 L420.0 1116.1 L422.0 1117.7 L424.0 1118.6 L426.0 1111.4 L428.0 1108.4 L430.0 1113.7 L432.0 1114.4 L434.1 1112.0 L436.1 1110.8 L438.2 1106.6 L440.2 1105.4 L442.3 1108.0 L444.0 1102.8 L445.7 1099.7 L447.4 1100.3 L449.0 1106.8 L450.7 1104.4 L452.4 1097.5 L453.8 1095.4 L455.1 1095.5 L456.5 1091.4 L457.9 1097.3 L459.4 1095.7 L460.8 1094.9 L462.3 1101.6 L463.7 1098.9 L465.2 1102.1 L466.6 1103.0 L468.6 1101.3 L470.7 1101.7 L472.7 1098.5 L474.7 1095.4 L476.8 1094.1 L478.8 1095.7 L480.8 1096.3 L482.9 1097.4 L484.9 1097.1 L486.9 1097.7 L488.9 1096.3 L491.0 1093.8 L493.0 1093.4 L495.0 1090.5 L497.0 1094.9 L499.0 1096.4 L501.0 1096.7 L503.0 1095.4 L505.0 1095.4 L507.0 1097.9 L509.0 1096.0 L510.6 1096.4 L512.2 1094.8 L513.8 1092.8 L515.4 1094.0 L516.9 1088.6 L518.5 1087.9 L520.1 1085.7 L521.7 1084.5 L523.3 1088.4 L524.7 1087.3 L526.1 1082.0 L527.5 1081.6 L528.9 1081.4 L530.3 1079.0 L531.8 1078.4 L533.2 1071.4 L534.6 1071.2 L536.0 1072.0 L537.4 1072.7 L539.2 1070.9 L541.0 1069.9 L542.8 1072.1 L544.6 1072.5 L546.4 1073.2 L548.2 1079.5 L550.0 1076.0 L551.8 1078.5 L553.6 1084.4 L555.3 1081.2 L557.1 1078.3 L558.8 1075.2 L560.6 1076.4 L562.3 1078.1 L564.1 1074.9 L565.8 1075.3 L567.8 1073.4 L569.8 1075.0 L571.9 1074.1 L573.9 1076.2 L575.9 1078.7 L577.9 1073.4 L580.0 1077.1 L582.0 1078.5 L584.0 1077.3 L586.0 1077.3 L588.0 1079.1 L590.1 1081.2 L592.1 1077.6 L594.1 1076.4 L596.1 1071.6 L598.2 1078.7 L600.2 1074.0 L602.2 1073.2 L604.2 1070.2 L606.3 1072.0 L608.3 1069.1 L609.5 1073.5 L610.7 1076.2 L612.0 1077.0 L613.2 1079.4 L614.4 1078.7 L616.4 1083.7 L618.4 1079.2 L620.5 1076.6 L622.5 1080.2 L624.5 1078.9 L626.5 1078.4 L628.5 1079.8 L630.6 1081.2 L632.6 1078.0 L634.6 1080.3 L636.5 1082.7 L638.4 1080.1 L640.3 1077.2 L642.2 1076.8 L644.1 1075.3 L646.0 1074.4 L647.8 1077.2 L649.5 1076.6 L651.2 1072.6 L653.0 1079.0 L654.8 1078.2 L656.5 1082.8 L658.2 1081.1 L660.0 1083.9 L662.0 1088.5 L664.1 1081.5 L666.1 1081.5 L668.2 1080.9 L670.2 1078.9 L672.3 1080.1 L674.4 1085.2 L676.4 1083.1 L678.5 1080.5 L680.5 1081.4 L682.5 1086.7 L684.5 1084.2 L686.6 1085.7 L688.6 1087.8 L690.6 1090.7 L692.6 1092.6 L694.6 1091.2 L696.7 1089.8 L698.7 1090.5 L700.7 1094.7 L702.7 1093.8 L704.8 1090.0 L706.8 1091.7 L708.9 1091.3 L710.9 1090.8 L712.3 1091.2 L713.8 1091.0 L715.2 1094.3 L716.7 1093.7 L718.1 1101.4 L719.6 1101.5 L721.0 1099.2 L723.0 1105.6 L725.0 1105.1 L727.0 1099.6 L729.0 1108.5 L731.0 1106.9 L733.0 1110.3 L735.0 1103.7 L737.0 1108.2 L738.3 1106.2 L739.7 1104.0 L741.0 1102.3 L742.9 1105.2 L744.7 1100.6 L746.6 1102.2 L748.5 1102.9 L750.3 1105.7 L752.2 1106.6 L754.0 1109.8 L755.9 1110.6 L757.8 1111.1 L759.6 1110.5 L761.5 1112.0 L763.5 1115.2 L765.5 1114.9 L767.6 1113.5 L769.6 1112.7 L771.6 1116.9 L773.6 1112.3 L775.6 1115.1 L777.7 1116.3 L779.7 1113.3 L781.7 1115.8 L783.7 1112.0 L785.8 1117.2 L787.8 1115.9 L789.8 1112.5 L791.9 1118.0 L793.9 1115.0 L795.9 1120.3 L797.9 1116.5 L800.0 1118.1 L802.0 1119.6 L804.0 1118.7 L806.0 1120.4 L808.0 1119.0 L810.0 1122.1 L812.0 1121.0 L813.2 1119.8 L814.5 1111.7 L815.8 1118.7 L817.0 1114.6 L818.2 1109.0 L819.5 1111.5 L820.8 1110.7 L822.0 1110.4 L824.0 1106.6 L826.0 1113.4 L828.0 1110.6 L830.0 1117.3 L832.0 1113.0 L832.6 1115.0 L833.3 1117.0 L833.9 1119.0 L834.5 1121.0 L835.1 1123.0 L835.8 1125.0 L836.4 1126.7 L838.4 1129.0 L840.4 1127.1 L842.5 1125.9 L844.5 1131.3 L846.5 1131.3 L848.5 1133.2 L850.6 1132.1 L852.6 1129.4 L854.6 1127.5 L856.6 1130.2 L858.7 1130.6 L860.7 1130.7 L862.7 1134.3 L864.7 1133.7 L866.8 1132.4 L868.8 1133.4 L870.8 1132.7 L872.9 1133.5 L874.9 1134.7 L876.9 1135.1 L878.9 1131.5 L881.0 1129.7 L883.0 1136.1 L885.0 1134.3 L887.0 1137.4 L889.0 1132.4 L891.0 1136.3 L893.0 1138.1 L895.0 1135.8 L896.8 1136.9 L898.7 1138.6 L900.5 1138.4 L902.4 1138.5 L904.2 1132.1 L906.1 1129.9 L907.9 1133.1 L909.8 1133.1 L911.6 1130.4 L913.5 1126.1 L915.3 1129.7 L917.0 1131.0 L918.8 1131.8 L920.5 1130.8 L922.2 1133.8 L923.9 1136.2 L925.7 1134.5 L927.4 1132.9 L929.4 1137.5 L931.5 1137.7 L933.5 1136.4 L935.5 1138.2 L937.5 1134.7 L939.6 1135.6 L941.6 1134.9 L943.6 1136.7 L945.7 1138.7 L947.7 1134.4 L949.7 1140.4 L951.8 1140.1 L953.8 1139.4 L955.9 1139.8 L957.9 1143.3 L959.9 1139.9 L962.0 1140.9 L964.0 1139.7 L966.0 1143.2 L968.0 1145.4 L970.0 1143.8 L972.0 1143.7 L974.0 1142.6 L976.0 1143.6 L978.0 1140.3 L980.0 1145.9 L982.0 1142.9 L984.0 1141.6 L986.0 1142.4 L988.1 1142.4 L990.1 1146.2 L992.2 1146.7 L994.2 1141.5 L996.2 1146.6 L998.3 1146.7 L1000.3 1143.5 L1002.4 1141.6 L1004.4 1143.4 L1006.4 1143.7 L1008.4 1146.0 L1010.5 1144.5 L1012.5 1140.9 L1014.5 1146.0 L1016.5 1142.2 L1018.5 1147.7 L1020.6 1143.1 L1022.6 1144.4 L1024.6 1144.1 L1026.8 1142.8 L1029.0 1142.0 L1029.5 1139.9 L1029.9 1137.7 L1030.4 1135.6 L1030.9 1133.5 L1031.3 1131.3 L1031.8 1129.2 L1032.3 1127.1 L1032.8 1125.0 L1033.2 1122.8 L1033.7 1120.7 L1033.9 1118.6 L1034.2 1116.6 L1034.4 1114.5 L1034.6 1112.4 L1034.8 1110.3 L1035.1 1108.3 L1035.3 1106.2 L1035.5 1104.1 L1035.8 1102.1 L1036.0 1100.0 L1036.6 1097.7 L1037.2 1095.5 L1037.8 1093.2 L1038.4 1091.0 L1039.0 1088.7 L1039.6 1091.0 L1040.2 1093.2 L1040.8 1095.5 L1041.4 1097.7 L1042.0 1100.0 L1042.3 1102.1 L1042.6 1104.1 L1042.9 1106.2 L1043.2 1108.3 L1043.5 1110.3 L1043.7 1112.4 L1044.0 1114.5 L1044.3 1116.6 L1044.6 1118.6 L1044.9 1120.7 L1045.2 1122.8 L1045.6 1124.9 L1045.9 1127.1 L1046.2 1129.2 L1046.6 1131.3 L1046.9 1133.4 L1047.3 1135.5 L1047.6 1137.6 L1047.9 1139.8 L1048.3 1141.9 L1048.6 1146.9 L1050.5 1146.0 L1052.4 1146.4 L1054.3 1146.8 L1056.2 1145.0 L1058.1 1147.3 L1060.0 1148.0 L1062.0 1147.4 L1064.1 1149.5 L1066.2 1147.8 L1068.2 1147.8 L1070.2 1147.3 L1072.3 1145.9 L1074.3 1149.6 L1076.4 1150.7 L1078.5 1149.0 L1080.5 1147.4 L1082.5 1144.9 L1084.5 1148.8 L1086.6 1150.2 L1088.6 1148.8 L1090.6 1149.6 L1092.6 1150.3 L1094.6 1149.7 L1096.7 1147.4 L1098.7 1149.4 L1100.7 1148.9 L1102.7 1145.4 L1104.8 1146.8 L1106.8 1145.2 L1108.8 1146.8 L1110.8 1147.6 L1112.9 1145.1 L1114.9 1143.5 L1116.9 1148.0 L1119.0 1146.5 L1121.0 1147.9 L1123.0 1144.0 L1125.0 1147.5 L1127.0 1149.0 L1129.0 1149.0 L1131.0 1146.0 L1133.0 1146.8 L1135.0 1146.3 L1137.0 1148.0 L1139.0 1148.2 L1141.0 1146.9 L1143.0 1145.0 L1145.1 1148.0 L1147.2 1146.4 L1149.2 1148.1 L1151.2 1147.7 L1153.3 1149.7 L1155.3 1149.1 L1157.4 1147.0 L1159.5 1148.2 L1161.5 1150.3 L1163.5 1147.0 L1165.5 1148.4 L1167.6 1149.5 L1169.6 1149.6 L1171.6 1148.5 L1173.6 1146.0 L1175.6 1146.0 L1177.7 1148.1 L1179.7 1148.3 L1181.7 1151.4 L1183.7 1146.5 L1185.8 1149.2 L1187.8 1148.6 L1189.8 1145.1 L1191.8 1146.2 L1193.9 1147.4 L1195.9 1146.4 L1197.9 1146.8 L1200.0 1147.6 L1202.0 1145.7 L1204.0 1146.8 L1206.0 1144.7 L1208.0 1144.2 L1210.0 1145.1 L1212.0 1142.9 L1214.0 1143.5 L1216.0 1144.7 L1218.0 1141.9 L1220.0 1141.0 L1222.0 1141.6 L1224.0 1139.4 L1226.0 1140.8 L1228.0 1136.9 L1230.1 1140.4 L1232.1 1139.7 L1234.2 1140.2 L1236.2 1144.7 L1238.3 1141.9 L1240.3 1146.4 L1242.4 1145.7 L1244.4 1147.2 L1246.5 1144.2 L1248.5 1147.7 L1250.5 1148.4 L1252.6 1146.6 L1254.6 1147.0 L1256.6 1151.0 L1258.6 1148.2 L1260.7 1147.8 L1262.7 1147.9 L1264.7 1149.4 L1266.8 1149.3 L1268.8 1149.0 L1270.8 1151.2 L1272.8 1148.3 L1274.9 1149.5 L1276.9 1150.8 L1278.9 1147.4 L1281.0 1150.3 L1283.0 1151.4 L1285.0 1147.0 L1287.0 1147.5 L1289.0 1147.7 L1291.0 1146.7 L1293.0 1150.1 L1295.0 1147.0 L1297.0 1150.4 L1299.0 1151.8 L1300.6 1146.1 L1302.2 1146.4 L1303.8 1142.7 L1305.4 1145.1 L1306.9 1141.5 L1308.5 1140.7 L1310.1 1139.7 L1311.7 1138.9 L1313.3 1136.2 L1315.3 1137.9 L1317.3 1138.4 L1319.4 1140.5 L1321.4 1139.9 L1323.4 1142.9 L1324.6 1141.7 L1325.8 1145.4 L1327.1 1150.3 L1328.3 1149.4 L1329.5 1149.1 L1331.5 1150.4 L1333.5 1147.8 L1335.5 1146.0 L1337.6 1146.4 L1339.6 1147.6 L1341.6 1146.2 L1343.6 1144.7 L1344.5 1141.7 L1345.4 1139.6 L1346.4 1141.2 L1347.3 1137.9 L1348.2 1134.4 L1349.1 1130.9 L1350.0 1130.1 L1351.0 1133.7 L1351.9 1126.8 L1352.8 1126.5 L1354.1 1128.6 L1355.4 1129.8 L1356.7 1131.4 L1358.0 1131.6 L1359.3 1133.8 L1360.6 1139.3 L1361.9 1137.6 L1363.6 1141.3 L1365.4 1139.2 L1367.1 1142.6 L1368.8 1144.8 L1370.5 1147.4 L1372.3 1145.8 L1374.0 1149.6 L1376.0 1149.1 L1378.1 1147.2 L1380.1 1148.6 L1382.1 1146.4 L1384.1 1146.3 L1386.2 1147.1 L1388.2 1143.0 L1389.6 1145.2 L1391.1 1142.5 L1392.5 1140.4 L1394.0 1140.4 L1395.4 1140.7 L1396.9 1137.6 L1398.3 1138.5 L1400.0 1136.5 L1401.8 1137.7 L1403.5 1143.2 L1405.2 1143.0 L1406.9 1145.2 L1408.7 1144.2 L1410.4 1147.9 L1412.5 1147.2 L1414.6 1147.9 L1416.7 1147.0 L1418.9 1148.8 L1421.0 1146.2 L1423.1 1145.9 L1425.2 1145.2 L1427.3 1149.0 L1429.4 1146.4 L1431.5 1146.1 L1433.7 1146.3 L1435.8 1147.0 L1437.9 1145.9 L1440.0 1147.4 L1442.0 1145.7 L1444.0 1144.6 L1446.0 1142.8 L1448.0 1143.0 L1450.0 1141.1 L1452.0 1143.1 L1454.0 1144.5 L1456.0 1145.8 L1458.0 1143.5 L1460.0 1147.1 L1462.0 1146.8 L1464.1 1149.1 L1466.2 1145.9 L1468.2 1147.2 L1470.2 1147.9 L1472.3 1147.9 L1474.3 1149.9 L1476.4 1148.0 L1478.5 1150.1 L1480.5 1146.7 L1482.1 1145.1 L1483.7 1148.1 L1485.4 1145.8 L1487.0 1144.6 L1488.6 1142.9 L1490.2 1142.2 L1491.8 1138.6 L1493.5 1140.4 L1495.1 1137.2 L1496.7 1138.1 L1498.5 1138.1 L1500.2 1136.5 L1502.0 1138.7 L1503.8 1143.3 L1505.6 1142.8 L1507.4 1143.7 L1509.1 1145.9 L1510.9 1146.2 L1512.9 1146.3 L1514.9 1147.5 L1516.9 1147.9 L1518.9 1150.1 L1521.0 1148.4 L1523.0 1151.2 L1525.0 1151.4 L1527.0 1151.6 L1529.0 1151.0 L1531.0 1150.0 L1533.0 1150.1 L1535.1 1149.7 L1537.1 1149.0 L1539.1 1150.0 L1541.2 1149.3 L1543.2 1152.5 L1545.2 1151.1 L1547.3 1149.8 L1549.3 1147.8 L1551.3 1150.5 L1553.4 1150.0 L1555.4 1149.2 L1557.4 1149.2 L1559.5 1147.7 L1561.5 1151.7 L1563.5 1150.6 L1565.5 1154.1 L1567.6 1150.2 L1569.6 1149.9 L1571.6 1151.9 L1573.6 1149.8 L1575.6 1149.7 L1577.7 1148.7 L1579.7 1148.2 L1581.7 1150.9 L1582.4 1148.2 L1583.2 1147.2 L1583.9 1142.3 L1584.6 1140.8 L1585.3 1137.5 L1586.1 1138.1 L1586.8 1132.7 L1588.0 1137.5 L1589.1 1140.3 L1590.3 1142.7 L1591.5 1141.5 L1592.6 1146.3 L1593.8 1145.8 L1595.8 1145.9 L1597.8 1145.2 L1599.8 1148.8 L1601.9 1149.7 L1603.9 1146.7 L1605.9 1146.6 L1607.9 1147.3 L1609.9 1151.5 L1611.9 1149.5 L1613.9 1147.5 L1616.0 1145.9 L1618.0 1147.6 L1620.0 1150.3 L1622.0 1151.4 L1623.9 1147.5 L1625.7 1146.0 L1627.6 1145.3 L1629.4 1142.5 L1631.3 1145.5 L1633.1 1141.8 L1635.0 1143.9 L1636.8 1139.1 L1638.7 1138.8 L1640.5 1140.0 L1642.4 1137.6 L1644.4 1139.6 L1646.5 1138.4 L1648.5 1136.6 L1650.5 1138.9 L1652.6 1139.0 L1654.6 1135.0 L1656.4 1141.5 L1658.1 1140.9 L1659.9 1142.6 L1661.7 1140.1 L1663.4 1143.0 L1665.2 1144.8 L1666.9 1148.0 L1668.7 1145.8 L1670.7 1146.7 L1672.7 1145.2 L1674.8 1147.8 L1676.8 1148.8 L1678.8 1146.0 L1680.8 1147.7 L1682.8 1149.3 L1684.8 1151.0 L1686.9 1149.8 L1688.9 1148.6 L1690.9 1147.4 L1692.9 1147.9 L1694.9 1148.4 L1696.9 1149.7 L1699.0 1149.5 L1701.0 1152.0 L1703.0 1150.2 L1705.0 1148.2 L1707.1 1151.9 L1709.1 1151.0 L1711.1 1149.7 L1713.2 1148.5 L1715.2 1146.9 L1717.2 1148.0 L1719.2 1150.7 L1721.3 1148.2 L1723.3 1147.5 L1725.3 1149.5 L1727.4 1149.5 L1729.4 1150.0 L1731.4 1150.0 L1733.4 1151.0 L1735.5 1147.8 L1737.5 1150.3 L1739.5 1147.5 L1741.6 1149.8 L1743.6 1149.1 L1745.6 1148.9 L1747.6 1149.8 L1749.7 1148.2 L1751.7 1149.6 L1753.7 1149.0 L1755.7 1147.8 L1757.7 1146.6 L1759.8 1146.1 L1761.8 1146.3 L1763.8 1146.5 L1765.8 1146.6 L1767.8 1150.6 L1769.9 1147.1 L1771.9 1147.1 L1773.9 1144.6 L1775.9 1144.6 L1777.9 1145.0 L1780.0 1145.5 L1782.0 1143.5 L1784.0 1147.1 L1785.3 1142.2 L1786.7 1142.7 L1788.0 1136.1 L1789.3 1137.6 L1790.7 1136.2 L1792.0 1134.3 L1793.2 1132.8 L1794.5 1130.4 L1795.8 1128.2 L1797.0 1123.4 L1798.0 1122.7 L1799.0 1118.1 L1800.0 1119.9 L1801.2 1117.7 L1802.3 1115.2 L1803.7 1116.1 L1805.0 1118.2 L1806.0 1123.6 L1807.0 1125.4 L1808.0 1124.9 L1809.2 1128.6 L1810.4 1126.4 L1811.3 1127.9 L1812.1 1132.0 L1813.0 1133.5 L1813.8 1135.9 L1814.7 1139.0 L1815.5 1145.0 L1816.4 1141.9 L1818.4 1142.9 L1820.5 1143.2 L1822.5 1142.8 L1824.5 1144.1 L1826.5 1145.3 L1828.6 1141.1 L1830.6 1143.0 L1832.6 1141.6 L1834.6 1141.7 L1836.7 1138.2 L1838.7 1137.1 L1840.7 1135.5 L1842.7 1140.7 L1844.8 1141.4 L1846.8 1142.5 L1848.9 1140.3 L1850.9 1144.3 L1852.9 1143.9 L1854.9 1143.2 L1857.0 1144.1 L1859.0 1146.6 L1861.0 1146.6 L1863.0 1146.0 L1865.0 1146.9 L1867.1 1145.6 L1869.1 1146.7 L1871.1 1146.9 L1873.1 1147.8 L1875.1 1147.1 L1877.2 1147.2 L1879.2 1147.4 L1881.2 1146.9 L1883.2 1150.9 L1885.2 1148.5 L1887.3 1148.4 L1889.3 1151.0 L1891.3 1149.8 L1893.4 1145.6 L1895.4 1148.8 L1897.4 1149.0 L1899.4 1150.4 L1901.5 1149.6 L1903.5 1148.9 L1905.5 1146.2 L1907.5 1146.6 L1909.5 1148.2 L1911.6 1148.5 L1913.6 1146.4 L1915.6 1147.3 L1917.7 1147.2 L1919.7 1147.9 L1921.7 1148.3 L1923.7 1147.4 L1925.8 1146.2 L1927.8 1149.7 L1929.8 1150.2 L1931.8 1147.9 L1933.9 1149.5 L1935.9 1148.8 L1937.9 1149.1 L1939.9 1148.9 L1942.0 1147.2 L1944.0 1149.2 L1946.0 1149.8 L1948.0 1147.2 L1950.0 1151.3 L1952.1 1151.5 L1954.1 1151.2 L1956.1 1151.4 L1958.2 1149.7 L1960.2 1148.3 L1962.2 1148.0 L1964.2 1147.5 L1966.2 1148.7 L1968.3 1148.3 L1970.3 1149.1 L1972.3 1145.2 L1974.4 1151.1 L1976.4 1150.9 L1978.4 1147.6 L1980.4 1148.4 L1982.5 1148.0 L1984.5 1147.5 L1986.5 1146.7 L1988.5 1146.7 L1990.5 1145.5 L1992.6 1146.8 L1994.6 1146.4 L1996.6 1146.7 L1998.7 1144.9 L2000.7 1146.0 L2002.7 1145.9 L2004.7 1146.5 L2006.8 1144.1 L2008.8 1146.1 L2010.8 1146.8 L2012.8 1146.1 L2014.9 1144.7 L2016.9 1144.4 L2018.9 1144.7 L2021.0 1145.9 L2023.0 1147.0 L2024.7 1143.2 L2026.3 1141.2 L2028.0 1141.3 L2029.7 1139.7 L2031.3 1136.8 L2033.0 1135.7 L2035.0 1137.6 L2037.0 1139.6 L2039.0 1138.0 L2041.0 1139.3 L2042.2 1143.0 L2043.5 1142.2 L2044.7 1145.7 L2046.0 1147.7 L2047.2 1148.6 L2049.2 1147.3 L2051.2 1148.5 L2053.3 1148.0 L2055.3 1148.9 L2057.3 1147.1 L2059.3 1149.7 L2061.3 1145.8 L2063.4 1147.8 L2065.4 1147.9 L2067.4 1149.1 L2069.0 1145.7 L2070.6 1146.1 L2072.3 1143.4 L2073.9 1144.0 L2075.5 1144.2 L2077.1 1140.0 L2078.7 1140.0 L2080.4 1136.8 L2082.0 1138.3 L2083.6 1137.4 L2085.1 1137.3 L2086.5 1137.3 L2088.0 1141.0 L2089.4 1143.7 L2090.9 1145.2 L2092.3 1146.4 L2093.8 1144.2 L2095.8 1146.0 L2097.8 1149.1 L2099.8 1145.5 L2101.9 1148.9 L2103.9 1150.1 L2105.9 1148.7 L2107.9 1149.3 L2109.9 1147.4 L2111.9 1146.3 L2113.9 1148.0 L2115.9 1148.0 L2118.0 1148.3 L2120.0 1149.5 L2122.0 1148.5 L2124.0 1149.1 L2126.0 1149.3 L2128.1 1148.7 L2130.1 1151.2 L2132.1 1149.2 L2134.2 1148.6 L2136.2 1148.1 L2138.2 1147.5 L2140.3 1150.1 L2142.3 1148.4 L2144.3 1146.6 L2146.4 1147.3 L2148.4 1147.8 L2150.4 1147.3 L2152.5 1149.4 L2154.5 1146.2 L2156.6 1147.8 L2158.8 1146.6 L2160.9 1144.1 L2163.0 1145.0" fill="none" stroke="#000" stroke-width="9.6" stroke-linejoin="round" stroke-linecap="round"/>
<g fill="#000">
<rect x="244.3" y="64.8" width="1929" height="10.1"/>
<rect x="2163.4" y="64.8" width="10" height="1772"/>
<rect x="244.3" y="64.8" width="10.1" height="1772"/>
<rect x="242.6" y="1434.9" width="1925" height="9.9"/>
<rect x="242.6" y="1569.6" width="1925" height="10"/>
<rect x="244.3" y="1702.1" width="1925" height="9"/>
<rect x="244.3" y="1844.7" width="1929" height="10"/>
<rect x="244.3" y="1850" width="10" height="27.2"/>
<rect x="518.3" y="1850" width="10" height="27.2"/>
<rect x="792.5" y="1850" width="10" height="27.2"/>
<rect x="1066.7" y="1850" width="10" height="27.2"/>
<rect x="1340.9" y="1850" width="10" height="27.2"/>
<rect x="1615.2" y="1850" width="10" height="27.2"/>
<rect x="1889.4" y="1850" width="10" height="27.2"/>
<rect x="2163.4" y="1850" width="10" height="27.2"/>
<rect x="381.2" y="1850" width="10" height="13"/>
<rect x="655.4" y="1850" width="10" height="13"/>
<rect x="929.6" y="1850" width="10" height="13"/>
<rect x="1203.8" y="1850" width="10" height="13"/>
<rect x="1478.1" y="1850" width="10" height="13"/>
<rect x="1752.3" y="1850" width="10" height="13"/>
<rect x="2026.5" y="1850" width="10" height="13"/>
</g>
<rect x="613.9" y="1334.6" width="9.8" height="100.4" fill="#FF0000"/>
<rect x="969.5" y="1364.2" width="9.8" height="70.8" fill="#FF0000"/>
<rect x="1144.8" y="1384.7" width="9.8" height="53.7" fill="#FF0000"/>
<rect x="1393.0" y="1376.5" width="9.8" height="58.5" fill="#FF0000"/>
<rect x="1747.2" y="1410.8" width="9.8" height="24.2" fill="#FF0000"/>
<rect x="1854.2" y="1413.0" width="9.8" height="23.3" fill="#FF0000"/>
<rect x="1990.0" y="1413.0" width="9.8" height="23.3" fill="#FF0000"/>
<rect x="2082.0" y="1415.1" width="9.8" height="23.4" fill="#FF0000"/>
<rect x="531.3" y="1514.2" width="9.8" height="55.8" fill="#00BFFF"/>
<rect x="923.5" y="1538.9" width="9.8" height="31.1" fill="#00BFFF"/>
<rect x="1039.6" y="1521.0" width="9.8" height="49.0" fill="#00BFFF"/>
<rect x="1236.6" y="1547.8" width="9.8" height="22.2" fill="#00BFFF"/>
<rect x="1364.6" y="1539.3" width="9.8" height="30.7" fill="#00BFFF"/>
<rect x="1492.1" y="1532.4" width="9.8" height="37.6" fill="#00BFFF"/>
<rect x="1583.8" y="1557.9" width="9.8" height="15.0" fill="#00BFFF"/>
<rect x="1666.4" y="1541.7" width="9.8" height="28.3" fill="#00BFFF"/>
<rect x="1701.1" y="1543.7" width="9.8" height="26.3" fill="#00BFFF"/>
<rect x="1926.3" y="1542.9" width="9.8" height="27.1" fill="#00BFFF"/>
<rect x="2036.0" y="1536.8" width="9.8" height="33.2" fill="#00BFFF"/>
<rect x="315.1" y="1652.5" width="9.8" height="50.4" fill="#00DD00"/>
<rect x="535.5" y="1653.8" width="9.8" height="50.7" fill="#00DD00"/>
<rect x="1490.6" y="1653.8" width="9.8" height="50.7" fill="#00DD00"/>
<rect x="539.6" y="1812.1" width="9.8" height="33.2" fill="#0000FF"/>
<rect x="823.3" y="1817.8" width="9.8" height="29.6" fill="#0000FF"/>
<rect x="1322.3" y="1829.0" width="9.8" height="20.5" fill="#0000FF"/>
<rect x="1795.9" y="1832.9" width="9.8" height="18.9" fill="#0000FF"/>
<rect x="1738" y="83.8" width="411" height="144.9" fill="#fff" stroke="#000" stroke-width="3.4"/>
<rect x="1806.8" y="145" width="97.1" height="10.4" fill="#000"/>
<text transform="translate(1945.00,183.70) scale(1,1.0407)" font-family="Liberation Sans, Arial, sans-serif" font-size="80">S+C</text>
<text transform="translate(1653.00,1049.80) scale(1,1.0407)" font-family="Liberation Sans, Arial, sans-serif" font-size="73">1400</text>
<text transform="translate(1824.6,1053.8) scale(0.85,0.97)" font-family="IPAGothic, Noto Sans CJK JP, sans-serif" font-size="72">℃</text>
<text transform="translate(1909.00,1049.80) scale(1,1.0407)" font-family="Liberation Sans, Arial, sans-serif" font-size="73" font-weight="bold">heated</text>
<text transform="translate(1695.10,1228.60) scale(1,1.0407)" font-family="Liberation Sans, Arial, sans-serif" font-size="73">200</text>
<text transform="translate(1825.5,1232.6) scale(0.85,0.97)" font-family="IPAGothic, Noto Sans CJK JP, sans-serif" font-size="72">℃</text>
<text transform="translate(1909.00,1228.60) scale(1,1.0407)" font-family="Liberation Sans, Arial, sans-serif" font-size="73" font-weight="bold">heated</text>
<text transform="translate(1450.50,1397.00) scale(1,1.0407)" font-family="Liberation Sans, Arial, sans-serif" font-size="59.5" fill="#FF0000">Cristobalite, ICDD 71-0785</text>
<text transform="translate(1432.70,1510.40) scale(1,1.0407)" font-family="Liberation Sans, Arial, sans-serif" font-size="59.58" fill="#00BFFF">C<tspan font-size="40.5" dy="15.66">2</tspan><tspan dy="-15.66">AH</tspan><tspan font-size="40.5" dy="15.66">8</tspan><tspan dy="-15.66">, ICDD 00-045-0564</tspan></text>
<text transform="translate(1554.70,1665.30) scale(1,1.0407)" font-family="Liberation Sans, Arial, sans-serif" font-size="59.55" fill="#00DD00">C<tspan font-size="40.5" dy="15.85">4</tspan><tspan dy="-15.85">AH</tspan><tspan font-size="40.5" dy="15.85">19</tspan><tspan dy="-15.85">, ICDD 14-0628</tspan></text>
<text transform="translate(1434.40,1779.70) scale(1,1.0407)" font-family="Liberation Sans, Arial, sans-serif" font-size="59.6" fill="#0000FF">Fused silica, ICDD 46-1045</text>
<text transform="translate(249.09,1959.00) scale(1,1.0407)" font-family="Liberation Sans, Arial, sans-serif" font-size="80" text-anchor="middle">15</text>
<text transform="translate(523.30,1959.00) scale(1,1.0407)" font-family="Liberation Sans, Arial, sans-serif" font-size="80" text-anchor="middle">20</text>
<text transform="translate(797.52,1959.00) scale(1,1.0407)" font-family="Liberation Sans, Arial, sans-serif" font-size="80" text-anchor="middle">25</text>
<text transform="translate(1071.73,1959.00) scale(1,1.0407)" font-family="Liberation Sans, Arial, sans-serif" font-size="80" text-anchor="middle">30</text>
<text transform="translate(1345.95,1959.00) scale(1,1.0407)" font-family="Liberation Sans, Arial, sans-serif" font-size="80" text-anchor="middle">35</text>
<text transform="translate(1620.16,1959.00) scale(1,1.0407)" font-family="Liberation Sans, Arial, sans-serif" font-size="80" text-anchor="middle">40</text>
<text transform="translate(1894.38,1959.00) scale(1,1.0407)" font-family="Liberation Sans, Arial, sans-serif" font-size="80" text-anchor="middle">45</text>
<text transform="translate(2168.59,1959.00) scale(1,1.0407)" font-family="Liberation Sans, Arial, sans-serif" font-size="80" text-anchor="middle">50</text>
<text transform="translate(829.30,2092.80) scale(1,1.0407)" font-family="Liberation Sans, Arial, sans-serif" font-size="120">2-Theta (deg.)</text>
<text transform="translate(143.20,1326.70) rotate(-90) scale(1,1.0407)" font-family="Liberation Sans, Arial, sans-serif" font-size="119.3">Intensity (a.u.)</text>
</svg>
</body></html>
